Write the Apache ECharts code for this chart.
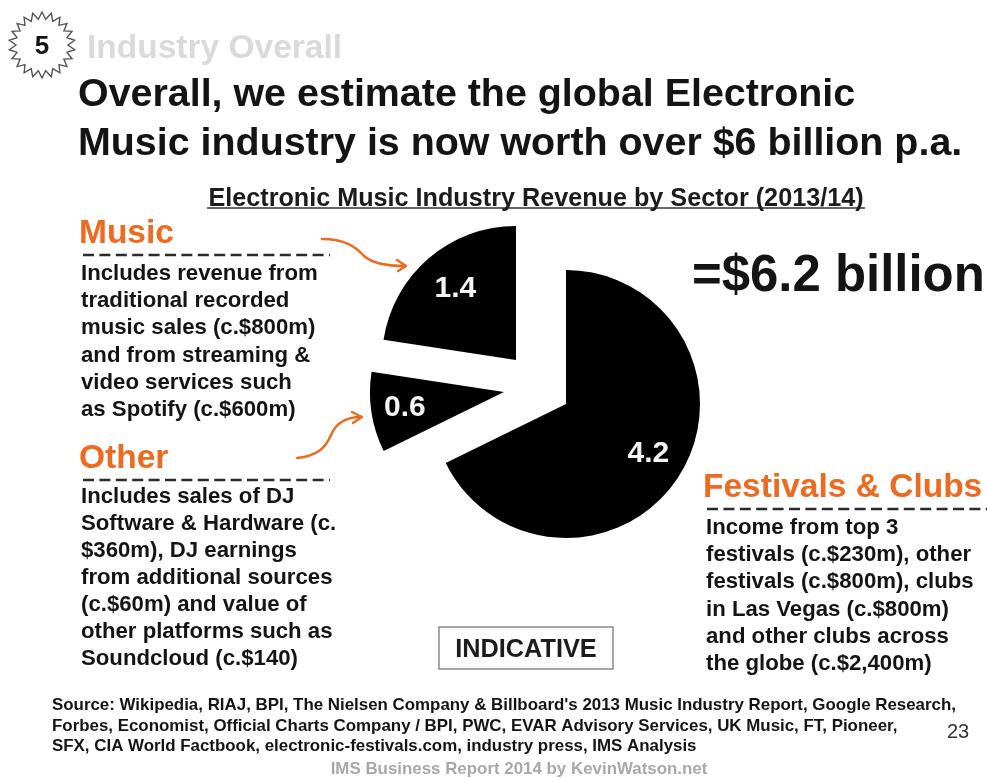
<!DOCTYPE html>
<html>
<head>
<meta charset="utf-8">
<title>Electronic Music Industry Revenue by Sector</title>
<style>html,body{margin:0;padding:0;background:#fff}#c{width:987px;height:778px}</style>
<script src="https://cdn.jsdelivr.net/npm/echarts@6/dist/echarts.min.js"></script>
</head>
<body>
<div id="c"></div>
<script>
// Revenue by sector, US$ billion, in clockwise order from twelve o'clock
const categories = ['Festivals & Clubs', 'Other', 'Music'];
const revenue = [4.2, 0.6, 1.4];

// Wedge placement: each sector is exploded by hand
const centers = [[566, 404], [504, 392], [516, 360]];
const labelOffsets = [[23, 13], [-30, 5], [-15, -18]];
const pieRadius = 134;

const headline = ['Overall, we estimate the global Electronic', 'Music industry is now worth over $6 billion p.a.'];
const musicNotes = ['Includes revenue from', 'traditional recorded', 'music sales (c.$800m)', 'and from streaming &', 'video services such', 'as Spotify (c.$600m)'];
const otherNotes = ['Includes sales of DJ', 'Software & Hardware (c.', '$360m), DJ earnings', 'from additional sources', '(c.$60m) and value of', 'other platforms such as', 'Soundcloud (c.$140)'];
const festivalNotes = ['Income from top 3', 'festivals (c.$230m), other', 'festivals (c.$800m), clubs', 'in Las Vegas (c.$800m)', 'and other clubs across', 'the globe (c.$2,400m)'];
const sources = [
  "Source: Wikipedia, RIAJ, BPI, The Nielsen Company & Billboard's 2013 Music Industry Report, Google Research,",
  'Forbes, Economist, Official Charts Company / BPI, PWC, EVAR Advisory Services, UK Music, FT, Pioneer,',
  'SFX, CIA World Factbook, electronic-festivals.com, industry press, IMS Analysis'
];

const FONT = '"Liberation Sans", Arial, sans-serif';
const ORANGE = '#ee6a1e';
const INK = '#141414';

function text(x, y, str, size, color, opts) {
  opts = opts || {};
  return {
    type: 'text', x, y, silent: true, z: 5,
    style: {
      text: str, fill: color || INK, align: opts.align || 'left', verticalAlign: 'middle',
      font: (opts.weight || 'bold') + ' ' + size + 'px ' + FONT
    }
  };
}
function notes(x, ys, lines, size) {
  return lines.map((l, i) => text(x, ys[i], l, size));
}
function dashed(x1, x2, y) {
  return {
    type: 'line', silent: true,
    shape: { x1, y1: y, x2, y2: y },
    style: { stroke: '#2a2a2a', lineWidth: 2.4, lineDash: [11, 5.4] }
  };
}
function curve(x1, y1, cpx1, cpy1, cpx2, cpy2, x2, y2) {
  return {
    type: 'bezierCurve', silent: true,
    shape: { x1, y1, cpx1, cpy1, cpx2, cpy2, x2, y2 },
    style: { stroke: ORANGE, lineWidth: 2.4, fill: null, lineCap: 'round' }
  };
}
function arrowHead(points) {
  return {
    type: 'polyline', silent: true,
    shape: { points },
    style: { stroke: ORANGE, lineWidth: 2.4, fill: null, lineCap: 'round', lineJoin: 'round' }
  };
}
// Serrated badge behind the section number
function badge(cx, cy, outer, inner, teeth) {
  const points = [];
  for (let i = 0; i < teeth * 2; i++) {
    const r = i % 2 ? inner : outer;
    const a = Math.PI * i / teeth - Math.PI / 2;
    points.push([cx + r * Math.cos(a), cy + r * Math.sin(a)]);
  }
  return {
    type: 'polygon', silent: true,
    shape: { points },
    style: { fill: '#fff', stroke: '#555', lineWidth: 1.4 }
  };
}

// One pie per exploded wedge; the other sectors stay unpainted so angles come from the full total
const series = categories.map((name, owner) => ({
  type: 'pie',
  name,
  center: centers[owner],
  radius: [0, pieRadius],
  startAngle: 90,
  clockwise: true,
  animation: false,
  silent: true,
  avoidLabelOverlap: false,
  labelLine: { show: false },
  data: categories.map((n, i) => ({
    name: n,
    value: revenue[i],
    itemStyle: { color: i === owner ? '#000' : 'transparent', borderWidth: 0 },
    label: i === owner ? {
      show: true, position: 'inside', formatter: '{c}',
      offset: labelOffsets[owner], color: '#f4f4f4', fontFamily: FONT, fontWeight: 'bold', fontSize: 30
    } : { show: false }
  }))
}));

const graphic = [
  badge(42, 45, 33, 26, 22),
  text(42, 47, '5', 26, INK, { align: 'center' }),
  text(87, 49, 'Industry Overall', 33.5, '#dadada'),
  text(78, 95, headline[0], 39.4),
  text(78, 144, headline[1], 39.4),
  text(536, 199, 'Electronic Music Industry Revenue by Sector (2013/14)', 25.2, '#1c1c1c', { align: 'center' }),
  { type: 'line', silent: true, shape: { x1: 207, y1: 208, x2: 865, y2: 208 }, style: { stroke: '#333', lineWidth: 1.5 } },

  text(79, 234, 'Music', 33.5, ORANGE),
  dashed(83, 330, 255),
  ...notes(81, [274, 301, 328, 356, 383, 410], musicNotes, 22.2),

  text(79, 459, 'Other', 33.5, ORANGE),
  dashed(83, 330, 480),
  ...notes(81, [497, 524, 551, 578, 605, 632, 659], otherNotes, 22.2),

  text(703, 488, 'Festivals & Clubs', 33.5, ORANGE),
  dashed(707, 987, 509),
  ...notes(706, [528, 555, 582, 610, 637, 664], festivalNotes, 22.2),

  text(692, 277, '=$6.2 billion', 50.9),

  curve(322, 239, 345, 239, 356, 247, 364, 256),
  curve(364, 256, 373, 264, 388, 266, 405, 266),
  arrowHead([[397, 260], [406, 266], [398, 271]]),
  curve(297, 458, 318, 456, 326, 447, 331, 435),
  curve(331, 435, 336, 423, 346, 417, 361, 417),
  arrowHead([[352, 412], [362, 417], [353, 423]]),

  { type: 'rect', silent: true, shape: { x: 439, y: 627, width: 174, height: 42 }, style: { fill: '#fff', stroke: '#8a8a8a', lineWidth: 1.5 } },
  text(526, 650, 'INDICATIVE', 25.3, '#1c1c1c', { align: 'center' }),

  ...notes(52, [705, 726, 746], sources, 16.9),
  text(958, 732, '23', 20, '#333', { align: 'center', weight: 'normal' }),
  text(519, 769, 'IMS Business Report 2014 by KevinWatson.net', 16.9, '#a8a8a8', { align: 'center' })
];

const chart = echarts.init(document.getElementById('c'), null, { renderer: 'canvas', width: 987, height: 778 });
chart.setOption({ animation: false, backgroundColor: '#fff', series, graphic: { elements: graphic } });
</script>
</body>
</html>
